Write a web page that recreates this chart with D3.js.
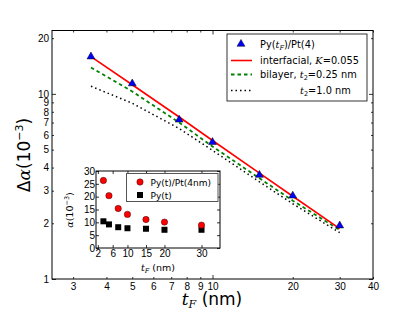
<!DOCTYPE html>
<html>
<head>
<meta charset="utf-8">
<script src="https://cdn.jsdelivr.net/npm/d3@7"></script>
<style>
  body { margin: 0; background: #fff; }
  svg { font-family: "DejaVu Sans", sans-serif; }
  .tick text { font-size: 10px; fill: #000; }
  .tick line { stroke: #000; }
</style>
</head>
<body>
<svg width="415" height="311"></svg>
<script>
// main panel data
const tMain = [3.5, 5, 7.5, 10, 15, 20, 30];
const dAlpha = [15.8, 11.3, 7.2, 5.45, 3.62, 2.8, 1.93];
const interfacial = [15.9, 11.2, 7.5, 5.6, 3.73, 2.8, 1.87];
const bilayer025 = [13.9, 10.3, 7.0, 5.2, 3.5, 2.65, 1.84];
const bilayer10 = [11.0, 8.9, 6.5, 4.95, 3.35, 2.55, 1.78];
const xTicksMain = [3, 4, 5, 6, 7, 8, 9, 10, 20, 30, 40];
const yTicksMain = [1, 2, 3, 4, 5, 6, 7, 8, 9, 10, 20];
const majorMain = [1, 10];

// inset data
const tInset = [3.5, 5, 7.5, 10, 15, 20, 30];
const alphaPyPt = [26.3, 20.4, 15.4, 13.1, 11.1, 10.1, 8.9];
const alphaPy = [10.4, 9.2, 8.1, 7.7, 7.5, 7.1, 7.1];
const xTicksInset = [2, 6, 10, 15, 20, 30];
const yTicksInset = [0, 5, 10, 15, 20, 25, 30];

function main(){
    var svg = d3.select("svg");
    var L = 52, R = 373, T = 30.5, B = 279;

    var x = d3.scaleLog().domain([2.5, 40]).range([L, R]);
    var y = d3.scaleLog().domain([1, 22]).range([B, T]);

    // ticks, all inward
    function styleTicks(g, isMajor, horizontal){
        g.select(".domain").remove();
        g.selectAll(".tick line").attr("stroke-width", 0.8);
        g.selectAll(".tick").filter(d => isMajor(d)).select("line")
            .attr(horizontal ? "y2" : "x2", function(){ return +d3.select(this).attr(horizontal ? "y2" : "x2") * 2; });
    }
    var isMaj = d => majorMain.indexOf(d) >= 0;

    var gx = svg.append("g").attr("transform", "translate(0," + B + ")")
        .call(d3.axisBottom(x).tickValues(xTicksMain).tickFormat(d3.format("d")).tickSizeInner(-2).tickSizeOuter(0).tickPadding(4));
    styleTicks(gx, isMaj, true);
    var gxt = svg.append("g").attr("transform", "translate(0," + T + ")")
        .call(d3.axisTop(x).tickValues(xTicksMain).tickFormat("").tickSizeInner(-2).tickSizeOuter(0));
    styleTicks(gxt, isMaj, true);

    var gy = svg.append("g").attr("transform", "translate(" + L + ",0)")
        .call(d3.axisLeft(y).tickValues(yTicksMain).tickFormat(d3.format("d")).tickSizeInner(-2).tickSizeOuter(0).tickPadding(3));
    styleTicks(gy, isMaj, false);
    var gyr = svg.append("g").attr("transform", "translate(" + R + ",0)")
        .call(d3.axisRight(y).tickValues(yTicksMain).tickFormat("").tickSizeInner(-2).tickSizeOuter(0));
    styleTicks(gyr, isMaj, false);

    svg.append("rect").attr("x", L).attr("y", T).attr("width", R - L).attr("height", B - T)
        .attr("fill", "none").attr("stroke", "#000").attr("stroke-width", 1);

    // lines
    var line = (vals) => d3.line().x((d, i) => x(tMain[i])).y(d => y(d))(vals);
    svg.append("path").attr("d", line(bilayer10)).attr("fill", "none")
        .attr("stroke", "#000").attr("stroke-width", 1.5).attr("stroke-dasharray", "1.5,3");
    svg.append("path").attr("d", line(bilayer025)).attr("fill", "none")
        .attr("stroke", "#008000").attr("stroke-width", 1.8).attr("stroke-dasharray", "3.5,3");
    svg.append("path").attr("d", line(interfacial)).attr("fill", "none")
        .attr("stroke", "#ff0000").attr("stroke-width", 1.6);

    var tri = d3.symbol().type(d3.symbolTriangle).size(27);
    svg.selectAll(".tri").data(dAlpha).enter().append("path")
        .attr("class", "tri")
        .attr("d", tri)
        .attr("transform", (d, i) => "translate(" + x(tMain[i]) + "," + (y(d) - 0.5) + ")")
        .attr("fill", "#0000ff").attr("stroke", "#000").attr("stroke-width", 0.5);

    // axis labels
    var xl = svg.append("text").attr("x", 212).attr("y", 305).attr("text-anchor", "middle")
        .attr("font-size", 17);
    xl.append("tspan").attr("font-family", "DejaVu Serif").attr("font-style", "italic").text("t");
    xl.append("tspan").attr("font-family", "DejaVu Serif").attr("font-style", "italic")
        .attr("font-size", 11).attr("dy", 3).text("F");
    xl.append("tspan").attr("dy", -3).text(" (nm)");

    var yl = svg.append("text").attr("transform", "translate(30,155) rotate(-90)")
        .attr("text-anchor", "middle").attr("font-size", 17);
    yl.append("tspan").text("Δ");
    yl.append("tspan").attr("font-family", "DejaVu Serif").attr("font-style", "italic").text("α");
    yl.append("tspan").text("(10");
    yl.append("tspan").attr("font-size", 11).attr("dy", -7).text("−3");
    yl.append("tspan").attr("dy", 7).text(")");

    // legend
    var lg = svg.append("g").attr("font-size", 9.8);
    lg.append("rect").attr("x", 227).attr("y", 34).attr("width", 140).attr("height", 67)
        .attr("fill", "#fff").attr("stroke", "#000").attr("stroke-width", 0.8);
    var rows = [44.5, 60.5, 74.5, 90.5];
    lg.append("path").attr("d", tri).attr("transform", "translate(241," + (rows[0] - 0.5) + ")")
        .attr("fill", "#0000ff").attr("stroke", "#000").attr("stroke-width", 0.5);
    lg.append("line").attr("x1", 231).attr("x2", 252).attr("y1", rows[1]).attr("y2", rows[1])
        .attr("stroke", "#ff0000").attr("stroke-width", 1.6);
    lg.append("line").attr("x1", 231).attr("x2", 252).attr("y1", rows[2]).attr("y2", rows[2])
        .attr("stroke", "#008000").attr("stroke-width", 1.8).attr("stroke-dasharray", "3.5,3");
    lg.append("line").attr("x1", 231).attr("x2", 252).attr("y1", rows[3]).attr("y2", rows[3])
        .attr("stroke", "#000").attr("stroke-width", 1.5).attr("stroke-dasharray", "1.5,3");

    var t1 = lg.append("text").attr("x", 260).attr("y", rows[0] + 3.5);
    t1.append("tspan").text("Py(");
    t1.append("tspan").attr("font-family", "DejaVu Serif").attr("font-style", "italic").text("t");
    t1.append("tspan").attr("font-family", "DejaVu Serif").attr("font-style", "italic").attr("font-size", 6.5).attr("dy", 2).text("F");
    t1.append("tspan").attr("dy", -2).text(")/Pt(4)");

    var t2 = lg.append("text").attr("x", 260).attr("y", rows[1] + 3.5);
    t2.append("tspan").text("interfacial, ");
    t2.append("tspan").attr("font-family", "DejaVu Serif").attr("font-style", "italic").text("K");
    t2.append("tspan").text("=0.055");

    var t3 = lg.append("text").attr("x", 260).attr("y", rows[2] + 3.5);
    t3.append("tspan").text("bilayer, ");
    t3.append("tspan").attr("font-family", "DejaVu Serif").attr("font-style", "italic").text("t");
    t3.append("tspan").attr("font-size", 6.5).attr("dy", 2).text("2");
    t3.append("tspan").attr("dy", -2).text("=0.25 nm");

    var t4 = lg.append("text").attr("x", 300).attr("y", rows[3] + 3.5);
    t4.append("tspan").attr("font-family", "DejaVu Serif").attr("font-style", "italic").text("t");
    t4.append("tspan").attr("font-size", 6.5).attr("dy", 2).text("2");
    t4.append("tspan").attr("dy", -2).text("=1.0 nm");

    // inset
    var iL = 96, iR = 220, iT = 171, iB = 248;
    var xi = d3.scaleLinear().domain([1.5, 35]).range([iL, iR]);
    var yi = d3.scaleLinear().domain([0, 30]).range([iB, iT]);
    var inset = svg.append("g");
    inset.append("rect").attr("x", iL).attr("y", iT).attr("width", iR - iL).attr("height", iB - iT)
        .attr("fill", "#fff");

    var noMaj = d => false;
    var ix = inset.append("g").attr("transform", "translate(0," + iB + ")")
        .call(d3.axisBottom(xi).tickValues(xTicksInset).tickSizeInner(-3).tickSizeOuter(0).tickPadding(2));
    styleTicks(ix, noMaj, true);
    ix.selectAll(".tick text").attr("font-size", 11);
    var ixt = inset.append("g").attr("transform", "translate(0," + iT + ")")
        .call(d3.axisTop(xi).tickValues(xTicksInset).tickFormat("").tickSizeInner(-3).tickSizeOuter(0));
    styleTicks(ixt, noMaj, true);
    var iy = inset.append("g").attr("transform", "translate(" + iL + ",0)")
        .call(d3.axisLeft(yi).tickValues(yTicksInset).tickSizeInner(-3).tickSizeOuter(0).tickPadding(1));
    styleTicks(iy, noMaj, false);
    iy.selectAll(".tick text").attr("font-size", 11);
    var iyr = inset.append("g").attr("transform", "translate(" + iR + ",0)")
        .call(d3.axisRight(yi).tickValues(yTicksInset).tickFormat("").tickSizeInner(-3).tickSizeOuter(0));
    styleTicks(iyr, noMaj, false);

    inset.append("rect").attr("x", iL).attr("y", iT).attr("width", iR - iL).attr("height", iB - iT)
        .attr("fill", "none").attr("stroke", "#000").attr("stroke-width", 1);

    inset.selectAll(".sq").data(alphaPy).enter().append("rect")
        .attr("x", (d, i) => xi(tInset[i]) - 3).attr("y", d => yi(d) - 3)
        .attr("width", 6).attr("height", 6).attr("fill", "#000");
    inset.selectAll(".circ").data(alphaPyPt).enter().append("circle")
        .attr("cx", (d, i) => xi(tInset[i])).attr("cy", d => yi(d)).attr("r", 3.2)
        .attr("fill", "#ff0000").attr("stroke", "#000").attr("stroke-width", 0.4);

    // inset legend
    var il = inset.append("g").attr("font-size", 9);
    il.append("rect").attr("x", 126.5).attr("y", 173.5).attr("width", 91.5).attr("height", 28)
        .attr("fill", "#fff").attr("stroke", "#555").attr("stroke-width", 1);
    il.append("circle").attr("cx", 140).attr("cy", 182).attr("r", 3.2)
        .attr("fill", "#ff0000").attr("stroke", "#000").attr("stroke-width", 0.4);
    il.append("rect").attr("x", 137).attr("y", 192).attr("width", 6).attr("height", 6).attr("fill", "#000");
    il.append("text").attr("x", 150.5).attr("y", 185.5).text("Py(t)/Pt(4nm)");
    il.append("text").attr("x", 150.5).attr("y", 198.5).text("Py(t)");

    // inset axis labels
    var ixl = inset.append("text").attr("x", 158).attr("y", 271).attr("text-anchor", "middle")
        .attr("font-size", 9.5);
    ixl.append("tspan").attr("font-family", "DejaVu Serif").attr("font-style", "italic").text("t");
    ixl.append("tspan").attr("font-family", "DejaVu Serif").attr("font-style", "italic")
        .attr("font-size", 6.5).attr("dy", 2).text("F");
    ixl.append("tspan").attr("dy", -2).text(" (nm)");

    var iyl = inset.append("text").attr("transform", "translate(73,210) rotate(-90)")
        .attr("text-anchor", "middle").attr("font-size", 9.5);
    iyl.append("tspan").attr("font-family", "DejaVu Serif").attr("font-style", "italic").text("α");
    iyl.append("tspan").text("(10");
    iyl.append("tspan").attr("font-size", 6.5).attr("dy", -4).text("−3");
    iyl.append("tspan").attr("dy", 4).text(")");
}
main();
</script>
</body>
</html>
